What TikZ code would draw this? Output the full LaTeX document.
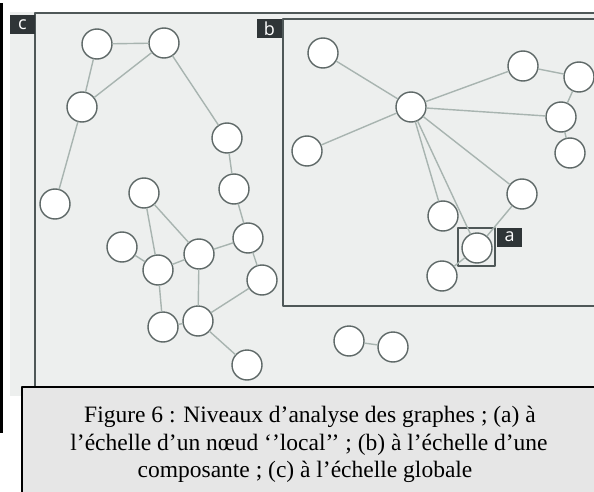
\documentclass[tikz,border=0pt]{standalone}
\usepackage{fontspec}
\setmainfont{Liberation Serif}
\newfontfamily\tagfont{Open Sans}
\definecolor{panelbg}{HTML}{EDEFEE}
\definecolor{frameline}{HTML}{4F5858}
\definecolor{nodeline}{HTML}{5E6867}
\definecolor{edgegrey}{HTML}{A8B4B0}
\definecolor{tagbg}{HTML}{2F3537}
\definecolor{capbg}{HTML}{E6E6E6}
\begin{document}
\begin{tikzpicture}[x=1pt, y=-1pt, line join=round, line cap=round,
		vertex/.style={circle, draw=nodeline, fill=white, line width=1.4pt, minimum size=30pt, inner sep=0pt},
		edge/.style={draw=edgegrey, line width=1.4pt},
		frame/.style={draw=frameline, line width=2pt},
		tag/.style={fill=tagbg, text=white, font=\tagfont\fontsize{18}{18}\selectfont, inner sep=0pt, minimum width=25pt, minimum height=19pt},
		caption/.style={anchor=base, font=\fontsize{23.5}{27}\selectfont}]
		\useasboundingbox (0,0) rectangle (594,492);
		% background and frames
		\fill[black] (0,3) rectangle (3,433);
		\fill[panelbg] (10,12) rectangle (600,396);
		\draw[frame] (35,13) rectangle (610,420);
		\draw[frame, fill=panelbg] (283,19) rectangle (610,306);
		\draw[frame] (458,228) rectangle (495,266);
		\node[tag] (tagc) at (22.5,24.5) {c};
		\node[tag] (tagb) at (269.5,28.5) {b};
		\node[tag] (taga) at (509.5,237) {a};
		% global graph (c)
		\node[vertex] (c1) at (97,44) {};
		\node[vertex] (c2) at (164,43) {};
		\node[vertex] (c3) at (82,107) {};
		\node[vertex] (c4) at (227,138) {};
		\node[vertex] (c5) at (234,189) {};
		\node[vertex] (c6) at (144,193) {};
		\node[vertex] (c7) at (55,204) {};
		\node[vertex] (c8) at (248,238) {};
		\node[vertex] (c9) at (122,247) {};
		\node[vertex] (c10) at (158,270) {};
		\node[vertex] (c11) at (199,254) {};
		\node[vertex] (c12) at (262,280) {};
		\node[vertex] (c13) at (163,327) {};
		\node[vertex] (c14) at (198,321) {};
		\node[vertex] (c15) at (247,365) {};
		\node[vertex] (p1) at (349,341) {};
		\node[vertex] (p2) at (393,347) {};
		\draw[edge] (c1)--(c2) (c1)--(c3) (c2)--(c3) (c3)--(c7) (c2)--(c4) (c4)--(c5) (c5)--(c8);
		\draw[edge] (c6)--(c10) (c6)--(c11) (c9)--(c10) (c10)--(c11) (c11)--(c8) (c8)--(c12);
		\draw[edge] (c10)--(c13) (c13)--(c14) (c11)--(c14) (c14)--(c12) (c14)--(c15) (p1)--(p2);
		% component (b)
		\node[vertex] (hub) at (411,107) {};
		\node[vertex] (b1) at (323,53) {};
		\node[vertex] (b2) at (307,151) {};
		\node[vertex] (b3) at (523,66) {};
		\node[vertex] (b4) at (579,77) {};
		\node[vertex] (b5) at (561,117) {};
		\node[vertex] (b6) at (570,153) {};
		\node[vertex] (b7) at (522,194) {};
		\node[vertex] (b8) at (443,216) {};
		\node[vertex] (loc) at (477,248) {};
		\node[vertex] (b10) at (442,276) {};
		\draw[edge] (b1)--(hub) (hub)--(b2) (hub)--(b3) (b3)--(b4) (b4)--(b5) (hub)--(b5) (b5)--(b6);
		\draw[edge] (hub)--(b8) (hub)--(loc) (hub)--(b7) (b7)--(loc) (b10)--(loc);
		% caption
		\draw[black, line width=1.2pt, fill=capbg] (22,387) rectangle (610,510);
		\node[caption] (cap1) at (310,422) {Figure 6 : Niveaux d’analyse des graphes ; (a) à};
		\node[caption] (cap2) at (309,450) {l’échelle d’un nœud ‘’local’’ ; (b) à l’échelle d’une};
		\node[caption] (cap3) at (305,477) {composante ; (c) à l’échelle globale};
\end{tikzpicture}
\end{document}
